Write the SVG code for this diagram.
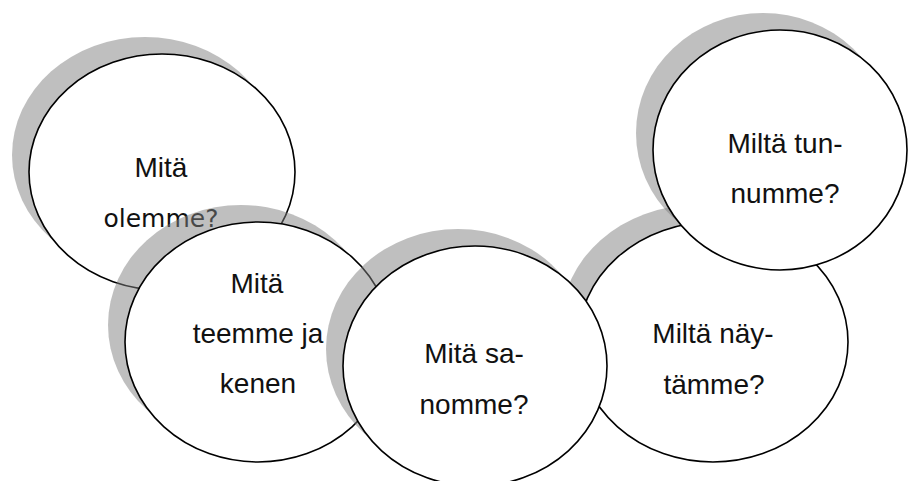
<svg xmlns="http://www.w3.org/2000/svg" width="910" height="481" viewBox="0 0 910 481">
<style>
.sh{fill:#808080;fill-opacity:0.5;stroke:none}
.bd{fill:#ffffff;stroke:#000000;stroke-width:1.6}
.t{font-family:"Liberation Sans",Arial,sans-serif;font-size:28px;fill:#111111;text-anchor:middle}
.t2{font-family:"DejaVu Sans",Verdana,sans-serif;font-size:25px;fill:#111111;text-anchor:middle}
</style>
<rect width="910" height="481" fill="#ffffff"/>
<g id="n1">
<ellipse class="sh" cx="145" cy="155" rx="133" ry="118"/>
<ellipse class="bd" cx="162" cy="172" rx="133" ry="118"/>
<text class="t" x="161" y="177">Mitä</text>
<text class="t2" x="161" y="227">olemme?</text>
</g>
<g id="n2">
<ellipse class="sh" cx="241" cy="325" rx="133" ry="120"/>
<ellipse class="bd" cx="258" cy="342" rx="133" ry="120"/>
<text class="t" x="257" y="293">Mitä</text>
<text class="t" x="258" y="343">teemme ja</text>
<text class="t" x="258" y="393">kenen</text>
</g>
<g id="n4">
<ellipse class="sh" cx="696" cy="325" rx="135" ry="120"/>
<ellipse class="bd" cx="713" cy="342" rx="135" ry="120"/>
<text class="t" x="713" y="343">Miltä näy-</text>
<text class="t" x="714" y="394">tämme?</text>
</g>
<g id="n3">
<ellipse class="sh" cx="458" cy="349" rx="132" ry="120"/>
<ellipse class="bd" cx="475" cy="366" rx="132" ry="120"/>
<text class="t" x="474" y="363">Mitä sa-</text>
<text class="t" x="474" y="414">nomme?</text>
</g>
<g id="n5">
<ellipse class="sh" cx="763" cy="133" rx="127" ry="120"/>
<ellipse class="bd" cx="780" cy="150" rx="127" ry="120"/>
<text class="t" x="785" y="153">Miltä tun-</text>
<text class="t" x="785" y="203">numme?</text>
</g>
<g id="connectors"/>
</svg>
